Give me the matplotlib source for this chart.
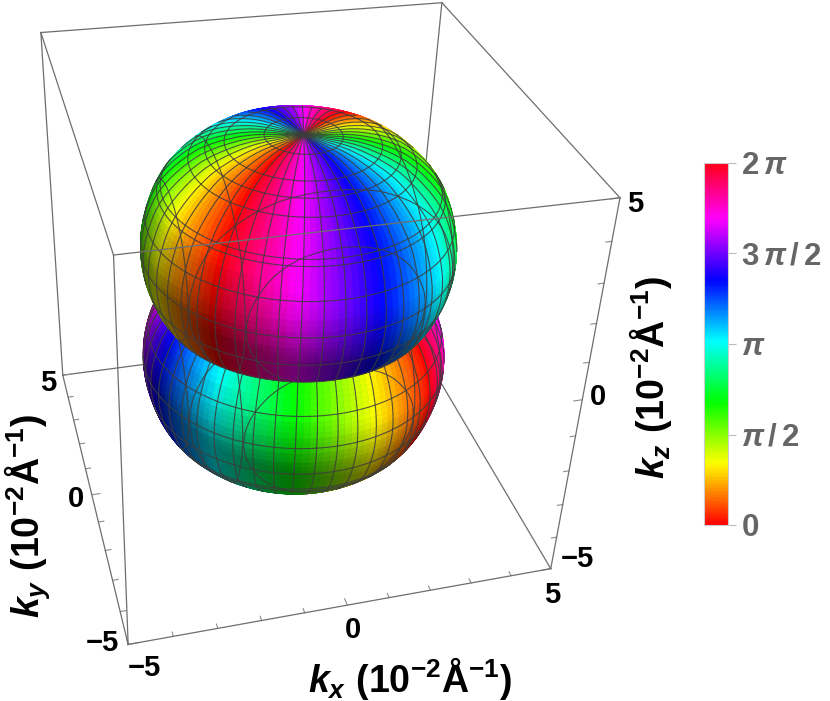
import numpy as np
import matplotlib
matplotlib.use('Agg')
import matplotlib.pyplot as plt
from matplotlib.cm import ScalarMappable
from matplotlib.colors import Normalize
from contourpy import contour_generator

plt.rcParams['font.family'] = ['Liberation Sans', 'DejaVu Sans']
plt.rcParams['font.weight'] = 'bold'
plt.rcParams['mathtext.fontset'] = 'custom'
plt.rcParams['mathtext.rm'] = 'Liberation Sans:bold'
plt.rcParams['mathtext.it'] = 'Liberation Sans:italic:bold'
plt.rcParams['mathtext.bf'] = 'Liberation Sans:bold'

W, H = 830, 701

# lobe radius (10^-2 1/A) every 1.875 deg of polar angle, pole to waist
upper_radius = [4.350, 4.350, 4.360, 4.370, 4.380, 4.400, 4.420, 4.440, 4.460, 4.475, 4.490, 4.500, 4.515,
                4.525, 4.535, 4.540, 4.546, 4.536, 4.525, 4.512, 4.497, 4.481, 4.463, 4.443, 4.421,
                4.390, 4.355, 4.315, 4.270, 4.225, 4.180, 4.135, 4.090, 4.045, 3.995, 3.945, 3.890,
                3.835, 3.780, 3.720, 3.660, 3.600, 3.535, 3.470, 3.405, 3.345, 3.280, 3.212, 3.143]
lower_radius = upper_radius[::-1]

# phase (deg) for each 2.5 deg wedge of azimuth
upper_phase = [87.5, 82.5, 77.5, 72.5, 67.5, 62.5, 57.5, 52.5, 47.5, 42.5, 37.5, 32.5,
               27.5, 22.5, 17.5, 12.5, 7.5, 2.5, 357.5, 352.5, 347.5, 342.5, 337.5, 332.5,
               327.5, 322.5, 317.5, 312.5, 307.5, 302.5, 297.5, 292.5, 287.5, 282.5, 277.5, 272.5,
               267.5, 262.5, 257.5, 252.5, 247.5, 242.5, 237.5, 232.5, 227.5, 222.5, 217.5, 212.5,
               207.5, 202.5, 197.5, 192.5, 187.5, 182.5, 177.5, 172.5, 167.5, 162.5, 157.5, 152.5,
               147.5, 142.5, 137.5, 132.5, 127.5, 122.5, 117.5, 112.5, 107.5, 102.5, 97.5, 92.5,
               87.5, 82.5, 77.5, 72.5, 67.5, 62.5, 57.5, 52.5, 47.5, 42.5, 37.5, 32.5,
               27.5, 22.5, 17.5, 12.5, 7.5, 2.5, 357.5, 352.5, 347.5, 342.5, 337.5, 332.5,
               327.5, 322.5, 317.5, 312.5, 307.5, 302.5, 297.5, 292.5, 287.5, 282.5, 277.5, 272.5,
               267.5, 262.5, 257.5, 252.5, 247.5, 242.5, 237.5, 232.5, 227.5, 222.5, 217.5, 212.5,
               207.5, 202.5, 197.5, 192.5, 187.5, 182.5, 177.5, 172.5, 167.5, 162.5, 157.5, 152.5,
               147.5, 142.5, 137.5, 132.5, 127.5, 122.5, 117.5, 112.5, 107.5, 102.5, 97.5, 92.5]
lower_phase = [267.5, 262.5, 257.5, 252.5, 247.5, 242.5, 237.5, 232.5, 227.5, 222.5, 217.5, 212.5,
               207.5, 202.5, 197.5, 192.5, 187.5, 182.5, 177.5, 172.5, 167.5, 162.5, 157.5, 152.5,
               147.5, 142.5, 137.5, 132.5, 127.5, 122.5, 117.5, 112.5, 107.5, 102.5, 97.5, 92.5,
               87.5, 82.5, 77.5, 72.5, 67.5, 62.5, 57.5, 52.5, 47.5, 42.5, 37.5, 32.5,
               27.5, 22.5, 17.5, 12.5, 7.5, 2.5, 357.5, 352.5, 347.5, 342.5, 337.5, 332.5,
               327.5, 322.5, 317.5, 312.5, 307.5, 302.5, 297.5, 292.5, 287.5, 282.5, 277.5, 272.5,
               267.5, 262.5, 257.5, 252.5, 247.5, 242.5, 237.5, 232.5, 227.5, 222.5, 217.5, 212.5,
               207.5, 202.5, 197.5, 192.5, 187.5, 182.5, 177.5, 172.5, 167.5, 162.5, 157.5, 152.5,
               147.5, 142.5, 137.5, 132.5, 127.5, 122.5, 117.5, 112.5, 107.5, 102.5, 97.5, 92.5,
               87.5, 82.5, 77.5, 72.5, 67.5, 62.5, 57.5, 52.5, 47.5, 42.5, 37.5, 32.5,
               27.5, 22.5, 17.5, 12.5, 7.5, 2.5, 357.5, 352.5, 347.5, 342.5, 337.5, 332.5,
               327.5, 322.5, 317.5, 312.5, 307.5, 302.5, 297.5, 292.5, 287.5, 282.5, 277.5, 272.5]

axis_ticks = [-5, -4, -3, -2, -1, 0, 1, 2, 3, 4, 5]
mesh_kx = [-3, -2, 2, 3]
mesh_ky = [-3, -2, 2, 3]
mesh_kz = [-4, -3, 3, 4]
phase_ticks = [0, np.pi / 2, np.pi, 3 * np.pi / 2, 2 * np.pi]
phase_labels = ['$0$', r'$\pi\,/\,2$', r'$\pi$', r'$3\,\pi\,/\,2$', r'$2\,\pi$']

ELEV, AZIM, ROLL, FOCAL = 33.85, -107.12, -2.634, 0.312
LOBE_Z, LOBE_A, LOBE_B = 1.55, 3.55, 3.05
EDGE = '#6e6e6e'
TICK = '#8c8c8c'
MESH = '#3c3c3c'

# unit vectors of the camera, used for the lighting and to hide the far side of the lobes
e, a = np.deg2rad(ELEV), np.deg2rad(AZIM)
to_eye = np.array([np.cos(e) * np.cos(a), np.cos(e) * np.sin(a), np.sin(e)])
right = np.array([-np.sin(a), np.cos(a), 0])
up = np.cross(to_eye, right)
eye = 34.0 * to_eye
light = 0.25 * right + 0.7 * up + 0.65 * to_eye
light = light / np.linalg.norm(light)


def lobe(radius, polar):
    azimuth = np.deg2rad(np.arange(145) * 2.5)
    th, ph = np.meshgrid(np.deg2rad(polar), azimuth, indexing='ij')
    r = np.array(radius)[:, None]
    return r * np.sin(th) * np.cos(ph), r * np.sin(th) * np.sin(ph), r * np.cos(th)


def draw_lobe(ax, X, Y, Z, phase, z_base):
    P = np.dstack([X, Y, Z])
    n = np.cross(P[1:, 1:] - P[:-1, :-1], P[1:, :-1] - P[:-1, 1:])
    n = n / np.maximum(np.linalg.norm(n, axis=2, keepdims=True), 1e-9)
    mid = (P[1:, 1:] + P[:-1, :-1]) / 2
    n = n * np.sign(np.sum(n * (mid - [0, 0, np.sign(Z.sum()) * LOBE_Z]), axis=2, keepdims=True))
    shade = np.clip(0.55 + 1.0 * np.sum(n * light, axis=2), 0.45, 1)
    rgb = plt.cm.hsv(np.array(phase) / 360.0)[None, :, :3] * np.ones((X.shape[0] - 1, 1, 1))
    rgb = np.dstack([rgb * shade[:, :, None], np.ones(shade.shape)])
    s = ax.plot_surface(X, Y, Z, facecolors=rgb, rstride=1, cstride=1, shade=False,
                        linewidth=0.4, antialiased=True, zorder=z_base)
    s.set_edgecolor(rgb.reshape(-1, 4))


def visible(pts, z_sign):
    c = np.array([0, 0, z_sign * LOBE_Z])
    n = (pts - c) / np.array([LOBE_A, LOBE_A, LOBE_B]) ** 2
    return np.sum(n * (eye - pts), axis=1) > 0


def mesh_lines(ax, X, Y, Z, z_base):
    z_sign = np.sign(Z.sum())
    P = np.dstack([X, Y, Z])
    lines = [P[i, :] for i in range(6, X.shape[0], 6)] + [P[:, j] for j in range(0, 144, 3)]
    for field, levels in ((X, mesh_kx), (Y, mesh_ky), (Z, mesh_kz)):
        cg = contour_generator(z=field)
        for lev in levels:
            for seg in cg.lines(lev):
                j0 = np.minimum(seg[:, 0].astype(int), X.shape[1] - 2)
                i0 = np.minimum(seg[:, 1].astype(int), X.shape[0] - 2)
                u, v = (seg[:, 0] - j0)[:, None], (seg[:, 1] - i0)[:, None]
                lines.append(P[i0, j0] * (1 - u) * (1 - v) + P[i0, j0 + 1] * u * (1 - v)
                             + P[i0 + 1, j0] * (1 - u) * v + P[i0 + 1, j0 + 1] * u * v)
    for pts in lines:
        pts = pts.copy()
        pts[~visible(pts, z_sign)] = np.nan
        ax.plot(pts[:, 0], pts[:, 1], pts[:, 2], color=MESH, lw=0.8, alpha=0.85, zorder=z_base + 1)


def ftext(x, y, s, **kw):
    kw.setdefault('ha', 'center')
    kw.setdefault('va', 'center')
    kw.setdefault('color', 'black')
    fig.text(x / W, 1 - y / H, s, **kw)


fig = plt.figure(figsize=(W / 100, H / 100), dpi=100)

S, LEFT, BOTTOM = 861.9, -146.5, -42.5
ax = fig.add_axes([LEFT / W, BOTTOM / H, S / W, S / H], projection='3d')
ax.set_box_aspect((1, 1, 1))
ax.set_xlim(-6, 6)
ax.set_ylim(-6, 6)
ax.set_zlim(-6, 6)
ax.view_init(elev=ELEV, azim=AZIM, roll=ROLL)
ax.set_proj_type('persp', focal_length=FOCAL)
ax.set_axis_off()
ax.computed_zorder = False
ax.patch.set_alpha(0)

# back of the box goes under the lobes
L = 5
for p, q in [((-L, L, -L), (L, L, -L)), ((L, L, -L), (L, -L, -L)), ((L, L, -L), (L, L, L))]:
    ax.plot(*zip(p, q), color=EDGE, lw=0.9, zorder=1)

polar_upper = np.arange(49) * 1.875
X, Y, Z = lobe(lower_radius, 90 + polar_upper)
draw_lobe(ax, X, Y, Z, lower_phase, 2)
mesh_lines(ax, X, Y, Z, 2)
X, Y, Z = lobe(upper_radius, polar_upper)
draw_lobe(ax, X, Y, Z, upper_phase, 4)
mesh_lines(ax, X, Y, Z, 4)

for p, q in [((-L, L, L), (L, L, L)), ((L, L, L), (L, -L, L)), ((L, -L, L), (-L, -L, L)),
             ((-L, -L, L), (-L, L, L)), ((-L, L, L), (-L, L, -L)), ((-L, L, -L), (-L, -L, -L)),
             ((-L, -L, -L), (L, -L, -L)), ((L, -L, -L), (L, -L, L)), ((-L, -L, -L), (-L, -L, L))]:
    ax.plot(*zip(p, q), color=EDGE, lw=0.9, zorder=7)

for t in axis_ticks:
    size = 0.2 if t in (-5, 0, 5) else 0.13
    ax.plot([t, t], [-L, -L + size], [-L, -L], color=TICK, lw=0.8, zorder=6)
    ax.plot([-L, -L + size], [t, t], [-L, -L], color=TICK, lw=0.8, zorder=6)
    ax.plot([L, L - size], [-L, -L], [t, t], color=TICK, lw=0.8, zorder=6)

# tick labels
for x, y, s in [(144, 668, '\u22125'), (353, 630, '0'), (552, 595, '5'),
                (102, 643, '\u22125'), (76, 499, '0'), (48, 383, '5'),
                (577, 559, '\u22125'), (598, 397, '0'), (635, 204, '5')]:
    ftext(x, y, s, fontsize=21, fontweight='bold')

ftext(410, 678, r'$k_x\ (10^{-2}\mathrm{\AA}^{-1})$', fontsize=27)
ftext(27, 516, r'$k_y\ (10^{-2}\mathrm{\AA}^{-1})$', fontsize=27, rotation=90)
ftext(650, 378, r'$k_z\ (10^{-2}\mathrm{\AA}^{-1})$', fontsize=27, rotation=90)

# colour bar
cax = fig.add_axes([704 / W, 1 - 525 / H, 24 / W, 362 / H])
cb = fig.colorbar(ScalarMappable(Normalize(0, 2 * np.pi), cmap='hsv'), cax=cax, ticks=phase_ticks)
cb.ax.set_yticklabels(phase_labels, fontsize=22.5, color='#666666')
cb.ax.tick_params(length=5.5, width=0.8, color='#bbbbbb', pad=4)
cb.outline.set_edgecolor('#cccccc')
cb.outline.set_linewidth(0.8)

fig.savefig('out.png', dpi=100)
